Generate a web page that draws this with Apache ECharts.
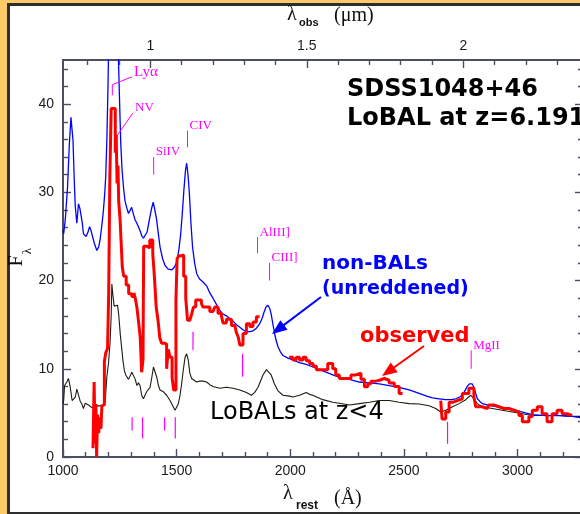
<!DOCTYPE html>
<html>
<head>
<meta charset="utf-8">
<script src="https://cdn.jsdelivr.net/npm/echarts@6/dist/echarts.min.js"></script>
<style>
  html, body { margin: 0; padding: 0; overflow: hidden; width: 580px; height: 514px; background: #fdca68; }
  .frame { position: absolute; left: 7px; top: 3px; width: 600px; height: 506px; border: 3px solid #2e2e2e; background: #fff; }
  #chart { position: absolute; left: 0; top: 0; width: 580px; height: 514px; }
</style>
</head>
<body>
<div class="frame"></div>
<div id="chart"></div>
<script>
  // non-BAL composite (unreddened), blue
  var blueWave = [1000, 1003, 1010, 1020, 1028, 1035, 1044, 1050, 1054, 1061, 1068, 1074, 1079, 1085, 1090, 1102, 1110, 1117, 1122, 1127,
    1138, 1149, 1157, 1163, 1172, 1178, 1184, 1188, 1193, 1198, 1203, 1216, 1232, 1242, 1248, 1254, 1260, 1266, 1273, 1280,
    1288, 1295, 1302, 1310, 1317, 1325, 1332, 1340, 1346, 1354, 1361, 1370, 1380, 1390, 1397, 1404, 1412, 1420, 1427, 1438,
    1449, 1463, 1478, 1490, 1500, 1510, 1518, 1526, 1532, 1539, 1544, 1550, 1556, 1563, 1570, 1579, 1588, 1600, 1617, 1632,
    1646, 1660, 1675, 1690, 1704, 1719, 1733, 1748, 1763, 1778, 1793, 1807, 1822, 1836, 1851, 1865, 1876, 1883, 1893, 1902,
    1910, 1916, 1924, 1931, 1938, 1946, 1957, 1968, 1990, 2011, 2040, 2070, 2100, 2128, 2160, 2187, 2220, 2260, 2304, 2350,
    2392, 2435, 2479, 2523, 2567, 2600, 2626, 2655, 2684, 2710, 2728, 2745, 2757, 2768, 2779, 2788, 2794, 2800, 2808, 2815,
    2823, 2834, 2845, 2867, 2889, 2918, 2947, 2977, 3006, 3035, 3065, 3094, 3123, 3152, 3181, 3210, 3240, 3288]
  var blueFlux = [25.8, 25.3, 26.9, 30.6, 35.5, 38.5, 35.9, 31.0, 28.4, 26.5, 28.7, 28.2, 28.0, 26.5, 25.3, 25.0, 25.5, 26.1, 25.8, 25.3,
    24.2, 23.4, 23.8, 24.6, 26.5, 28.0, 30.0, 31.8, 36.0, 42.0, 50.0, 60.0, 55.0, 47.0, 41.2, 35.6, 32.5, 30.6, 29.0, 28.3,
    27.6, 27.8, 28.3, 27.5, 26.9, 26.5, 26.1, 25.6, 25.1, 24.8, 24.6, 25.5, 26.9, 28.2, 28.9, 28.0, 26.9, 25.2, 23.8, 22.5,
    21.7, 21.3, 21.2, 21.5, 22.1, 23.5, 25.3, 28.0, 30.3, 32.5, 33.3, 32.0, 29.9, 26.5, 23.8, 22.0, 20.8, 20.2, 19.8, 19.4,
    18.6, 18.0, 17.3, 16.6, 16.2, 16.0, 15.7, 15.4, 15.0, 14.7, 14.4, 14.2, 14.2, 14.3, 14.6, 15.1, 15.7, 16.3, 17.0, 17.2,
    16.8, 16.2, 15.0, 14.0, 13.2, 12.5, 11.9, 11.5, 11.2, 11.0, 10.7, 10.5, 10.2, 9.9, 9.6, 9.3, 9.0, 8.8, 8.5, 8.4,
    8.3, 8.1, 7.9, 7.6, 7.2, 6.9, 6.7, 6.6, 6.5, 6.5, 6.6, 6.8, 7.0, 7.5, 8.0, 8.3, 8.4, 8.3, 7.9, 7.3,
    6.6, 6.3, 6.05, 5.9, 5.8, 5.65, 5.5, 5.35, 5.2, 5.0, 4.8, 4.75, 4.7, 4.7, 4.7, 4.65, 4.6, 4.4]

  // observed spectrum, red, binned (left bin edges), null = gap
  var redWave = [1132, 1137, 1141, 1145, 1148, 1152, 1157, 1162, 1167, 1171, 1176, 1182, 1188, 1196, 1201, 1206, 1212, 1230, 1234, 1238,
    1242, 1245, 1251, 1256, 1261, 1267, 1278, 1289, 1303, 1312, 1318, 1325, 1333, 1340, 1346, 1352, 1355, 1370, 1382, 1395,
    1402, 1410, 1418, 1426, 1434, 1446, 1456, 1463, 1471, 1480, 1487, 1497, 1502, 1510, 1520, 1531, 1540, 1548, 1558, 1566,
    1574, 1584, 1596, 1609, 1616, 1631, 1646, 1660, 1668, 1682, 1697, 1704, 1719, 1741, 1756, 1763, 1771, 1778, 1792, 1807,
    1822, 1836, 1851, 1865, 1866,
    1995, 2012, 2026, 2041, 2056, 2070, 2085, 2100, 2115, 2143, 2165, 2187, 2200, 2216, 2267, 2289, 2311, 2326, 2341, 2355,
    2377, 2392, 2414, 2435, 2458, 2479, 2494, 2495,
    2662, 2668, 2684, 2699, 2714, 2735, 2757, 2786, 2808, 2816, 2830, 2844, 2867, 2874, 2896, 2918, 2940, 2962, 2984, 3006,
    3021, 3050, 3065, 3087, 3108, 3130, 3152, 3174, 3196, 3218, 3240]
  var redFlux = [1.0, 8.5, 1.5, 6.0, 0.0, 4.8, 2.7, 4.5, 3.2, 5.8, 5.9, 10.8, 11.8, 12.3, 18.5, 31.5, 39.5, 34.5, 36.5, 31.0,
    33.0, 29.0, 27.0, 24.2, 21.5, 20.5, 19.5, 18.5, 18.2, 18.6, 18.0, 17.0, 15.2, 13.5, 9.6, 11.0, 23.9, 23.7, 24.6, 23.0,
    20.5, 17.0, 15.5, 13.5, 12.9, 12.8, 10.0, 12.2, 11.3, 9.0, 7.6, 17.8, 22.5, 22.8, 22.9, 20.5, 18.0, 15.5, 15.3, 16.2,
    17.0, 17.8, 17.8, 17.4, 17.0, 17.0, 16.5, 16.3, 17.0, 16.3, 16.0, 15.2, 15.6, 14.9, 14.7, 14.1, 13.6, 12.7, 14.0, 15.1,
    14.8, 15.3, 15.9, 15.9, null,
    11.3, 11.0, 11.3, 11.0, 11.3, 10.9, 10.6, 10.3, 9.9, 9.9, 10.6, 10.0, 9.3, 8.9, 9.3, 9.5, 8.8, 7.95, 8.3, 8.6,
    8.7, 8.9, 8.7, 8.4, 8.0, 7.2, 7.2, null,
    6.4, 4.3, 5.1, 6.2, 6.4, 6.6, 7.2, 7.8, 6.8, 5.7, 5.7, 5.5, 5.7, 5.9, 5.7, 5.5, 5.5, 5.3, 5.1, 4.7,
    4.0, 4.6, 5.3, 5.7, 4.9, 4.0, 4.9, 5.3, 4.9, 4.7, 4.7]

  // LoBAL composite at z<4, black
  var blackWave = [1000, 1003, 1007, 1017, 1024, 1032, 1040, 1047, 1054, 1061, 1068, 1076, 1083, 1090, 1098, 1105, 1112, 1120, 1127, 1134,
    1149, 1164, 1178, 1186, 1193, 1200, 1207, 1212, 1215, 1219, 1225, 1232, 1240, 1245, 1252, 1258, 1264, 1270, 1276, 1281,
    1288, 1295, 1303, 1310, 1318, 1325, 1332, 1339, 1346, 1354, 1361, 1368, 1383, 1390, 1398, 1405, 1412, 1420, 1427, 1441,
    1456, 1471, 1485, 1493, 1500, 1507, 1515, 1522, 1529, 1537, 1544, 1551, 1558, 1566, 1573, 1588, 1602, 1617, 1632, 1646,
    1660, 1690, 1719, 1748, 1778, 1807, 1829, 1843, 1858, 1880, 1895, 1902, 1916, 1930, 1946, 1968, 1997, 2011, 2041, 2070,
    2085, 2099, 2143, 2187, 2216, 2260, 2304, 2348, 2392, 2435, 2479, 2523, 2567, 2611, 2640, 2662, 2684, 2714, 2743, 2772,
    2794, 2808, 2823, 2845, 2889, 2933, 2977, 3021, 3065, 3108, 3152, 3196, 3240, 3288]
  var blackFlux = [6.0, 6.4, 8.1, 8.5, 8.9, 7.9, 6.4, 6.2, 6.8, 7.7, 7.5, 6.3, 6.0, 5.5, 6.1, 6.2, 5.9, 5.8, 5.6, 5.7,
    5.8, 5.8, 5.9, 6.4, 9.1, 10.6, 12.9, 16.0, 19.6, 18.5, 17.1, 17.0, 17.2, 16.2, 13.9, 12.4, 10.9, 9.8, 9.3, 9.3,
    8.8, 8.9, 9.6, 9.4, 8.8, 8.1, 8.4, 8.1, 7.0, 6.6, 6.8, 7.4, 7.9, 8.9, 10.2, 10.0, 9.1, 8.1, 7.6, 7.4,
    7.0, 6.4, 5.7, 5.3, 5.5, 6.0, 7.0, 8.3, 9.8, 11.3, 11.7, 11.0, 9.5, 8.9, 8.7, 8.5, 8.6, 8.6, 8.5, 8.2,
    8.0, 7.8, 7.9, 7.8, 7.6, 7.3, 7.0, 7.3, 7.9, 9.3, 9.9, 10.0, 9.3, 8.3, 7.5, 7.0, 6.9, 6.8, 7.0, 7.3,
    7.1, 7.0, 6.5, 6.2, 6.1, 5.9, 6.05, 6.2, 6.4, 6.4, 6.2, 6.05, 6.0, 5.8, 5.5, 5.1, 5.3, 5.7, 6.05, 6.5,
    7.0, 6.6, 6.05, 5.7, 5.5, 5.3, 5.1, 4.9, 4.7, 4.7, 4.7, 4.7, 4.6, 4.6]

  // axis ticks
  var restTicks = [1000, 1500, 2000, 2500, 3000]
  var restMinor = [1100, 1200, 1300, 1400, 1600, 1700, 1800, 1900, 2100, 2200, 2300, 2400, 2600, 2700, 2800, 2900, 3100, 3200]
  var obsTicks = [1, 1.5, 2]
  var obsMinor = [0.8, 0.9, 1.1, 1.2, 1.3, 1.4, 1.6, 1.7, 1.8, 1.9, 2.1, 2.2, 2.3]
  var fluxTicks = [0, 10, 20, 30, 40]
  var fluxMinor = [2, 4, 6, 8, 12, 14, 16, 18, 22, 24, 26, 28, 32, 34, 36, 38, 42, 44]

  // line identifications (emission) and absorption troughs
  var lineIdName = ['Ly\u03b1', 'NV', 'SiIV', 'CIV', 'AlIII]', 'CIII]', 'MgII']
  var lineIdWave = [1217, 1240, 1399, 1548, 1856, 1909, 2796]
  var lineIdLow = [41.0, 35.1, 32.0, 35.1, 23.1, 20.0, 10.0]
  var lineIdHigh = [42.2, 36.5, 34.0, 37.0, 24.9, 22.0, 12.1]
  var lineIdLead = [[1304, 43.1], [1308, 39.0], null, null, null, null, null]
  var absWave = [1304, 1350, 1447, 1494, 1572, 1790, 2692]
  var absLow = [3.0, 2.1, 3.0, 2.1, 12.1, 9.1, 1.5]
  var absHigh = [4.5, 4.5, 4.5, 4.5, 14.2, 11.7, 4.0]

  var lamMin = 1000
  var lamMax = 3288
  var umMin = 0.7211
  var umMax = 2.3824

  var axisColor = '#4c4f60'
  var magenta = '#ff00ff'
  var serif = '"Liberation Serif", "DejaVu Serif", serif'
  var sans = '"Liberation Sans", Arial, sans-serif'
  var comic = '"DejaVu Sans", sans-serif'

  function pairs (xs, ys) {
    return xs.map(function (x, i) { return [x, ys[i]] })
  }

  function splitGaps (xs, ys) {
    var out = []
    var cur = []
    xs.forEach(function (x, i) {
      if (ys[i] === null) {
        cur.push([x, cur[cur.length - 1][1]])
        out.push(cur)
        cur = []
      } else {
        cur.push([x, ys[i]])
      }
    })
    if (cur.length) out.push(cur)
    return out
  }

  function axis (pos, min, max, ticks, len, main) {
    return {
      type: 'value',
      position: pos,
      min: min,
      max: max,
      axisLine: { show: main, onZero: false, lineStyle: { color: axisColor, width: 2 } },
      axisTick: { show: true, inside: true, length: len, customValues: ticks, lineStyle: { color: axisColor, width: 1.4 } },
      axisLabel: main && pos !== 'right'
        ? {
            show: true,
            customValues: ticks,
            margin: pos === 'left' ? 9 : 7,
            color: '#1a1a1a',
            fontSize: 14,
            fontFamily: sans,
            formatter: function (v) { return String(v) }
          }
        : { show: false },
      splitLine: { show: false },
      minorTick: { show: false }
    }
  }

  var chart = echarts.init(document.getElementById('chart'))

  var series = [
    {
      name: 'LoBALs at z<4',
      type: 'line',
      data: pairs(blackWave, blackFlux),
      showSymbol: false,
      lineStyle: { color: '#1c1c10', width: 1.1 },
      z: 2
    },
    {
      name: 'non-BALs',
      type: 'line',
      data: pairs(blueWave, blueFlux),
      showSymbol: false,
      lineStyle: { color: '#0000ff', width: 1.3 },
      z: 3
    }
  ]
  splitGaps(redWave, redFlux).forEach(function (seg) {
    series.push({
      name: 'observed',
      type: 'line',
      step: 'end',
      data: seg,
      showSymbol: false,
      lineStyle: { color: '#ff0000', width: 3 },
      z: 4
    })
  })

  chart.setOption({
    animation: false,
    backgroundColor: 'transparent',
    grid: { left: 63, top: 60, width: 520, height: 397, outerBoundsMode: 'none', containLabel: false },
    xAxis: [
      axis('bottom', lamMin, lamMax, restTicks, 8, true),
      axis('bottom', lamMin, lamMax, restMinor, 5, false),
      axis('top', umMin, umMax, obsTicks, 8, true),
      axis('top', umMin, umMax, obsMinor, 5, false)
    ],
    yAxis: [
      axis('left', 0, 45, fluxTicks, 8, true),
      axis('left', 0, 45, fluxMinor, 5, false),
      axis('right', 0, 45, fluxTicks, 8, true),
      axis('right', 0, 45, fluxMinor, 5, false)
    ],
    series: series
  })

  // annotations
  function px (lam, f) {
    return chart.convertToPixel({ xAxisIndex: 0, yAxisIndex: 0 }, [lam, f])
  }

  function seg (a, b, color, width) {
    return { type: 'line', shape: { x1: a[0], y1: a[1], x2: b[0], y2: b[1] }, style: { stroke: color, lineWidth: width }, z: 100 }
  }

  function text (str, x, y, font, color, align) {
    return { type: 'text', x: x, y: y, style: { text: str, font: font, fill: color, align: align || 'left', verticalAlign: 'middle' }, z: 100 }
  }

  function arrow (x1, y1, x2, y2, color, headLen, headW, width) {
    var dx = x2 - x1
    var dy = y2 - y1
    var l = Math.sqrt(dx * dx + dy * dy)
    var ux = dx / l
    var uy = dy / l
    var bx = x2 - ux * headLen
    var by = y2 - uy * headLen
    return [
      seg([x1, y1], [bx + ux * 2, by + uy * 2], color, width),
      {
        type: 'polygon',
        shape: { points: [[x2, y2], [bx - uy * headW, by + ux * headW], [bx + uy * headW, by - ux * headW]] },
        style: { fill: color },
        z: 100
      }
    ]
  }

  var g = []
  lineIdWave.forEach(function (lam, i) {
    var lo = px(lam, lineIdLow[i])
    var hi = px(lam, lineIdHigh[i])
    g.push(seg(lo, hi, magenta, 1))
    var end = hi
    if (lineIdLead[i]) {
      end = px(lineIdLead[i][0], lineIdLead[i][1])
      g.push(seg(hi, end, magenta, 1))
    }
    var size = i === 0 ? 15 : 13
    g.push(text(lineIdName[i], end[0] + 2, end[1] - 5, size + 'px ' + serif, magenta))
  })
  absWave.forEach(function (lam, i) {
    g.push(seg(px(lam, absLow[i]), px(lam, absHigh[i]), magenta, 1.2))
  })

  g = g.concat(arrow(321, 297, 272, 334, '#0000ff', 15, 6, 2))
  g = g.concat(arrow(424, 346, 382, 376, '#ff0000', 15, 6, 2))

  g.push(text('SDSS1048+46', 347, 90, 'bold 24px ' + comic, '#000'))
  g.push(text('LoBAL at z=6.191', 347, 119, 'bold 24px ' + comic, '#000'))
  g.push(text('non-BALs', 322, 264, 'bold 20px ' + comic, '#0000ff'))
  g.push(text('(unreddened)', 322, 289, 'bold 19px ' + comic, '#0000ff'))
  g.push(text('observed', 360, 337, 'bold 21px ' + comic, '#ff0000'))
  g.push(text('LoBALs at z<4', 210, 413, '24px ' + comic, '#000'))

  // axis titles
  g.push(text('\u03bb', 287, 15, '20px ' + serif, '#111'))
  g.push(text('obs', 299, 23, 'bold 11px ' + sans, '#111'))
  g.push(text('(\u03bcm)', 334, 16, '20px ' + serif, '#111'))
  g.push(text('\u03bb', 283, 494, '20px ' + serif, '#111'))
  g.push(text('rest', 296, 506, 'bold 12px ' + sans, '#111'))
  g.push(text('(\u00c5)', 334, 499, '20px ' + serif, '#111'))
  g.push({ type: 'text', x: 17, y: 261, rotation: Math.PI / 2, style: { text: 'F', font: '20px ' + serif, fill: '#111', align: 'center', verticalAlign: 'middle' }, z: 100 })
  g.push({ type: 'text', x: 28, y: 251, rotation: Math.PI / 2, style: { text: '\u03bb', font: '13px ' + serif, fill: '#111', align: 'center', verticalAlign: 'middle' }, z: 100 })

  chart.setOption({ graphic: g })
</script>
</body>
</html>
